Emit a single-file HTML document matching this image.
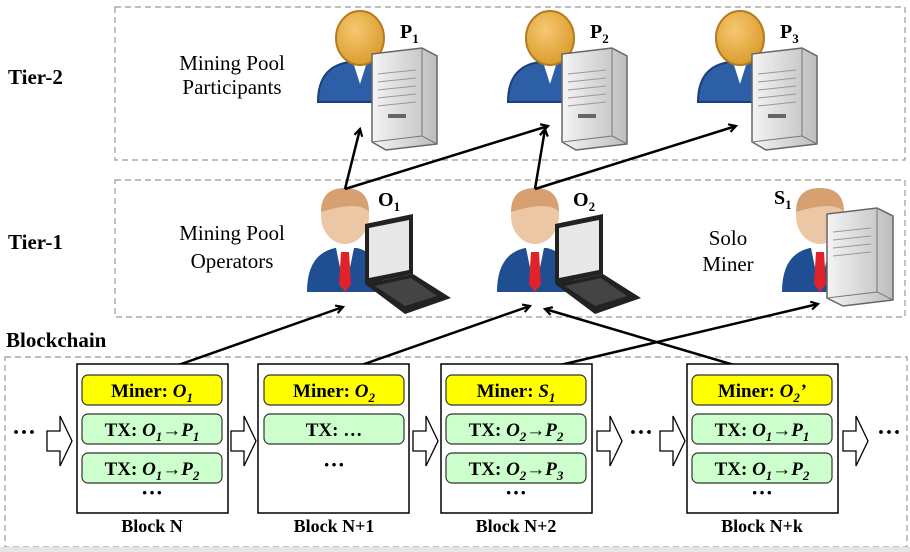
<!DOCTYPE html>
<html><head><meta charset="utf-8"><style>
html,body{margin:0;padding:0;background:#fff}
svg{display:block}
text{font-family:"Liberation Serif",serif}
.b{font-weight:bold}
</style></head><body>
<svg width="910" height="552" viewBox="0 0 910 552" xmlns="http://www.w3.org/2000/svg">
<defs>
<marker id="ah" markerWidth="10" markerHeight="10" refX="8" refY="5" orient="auto" markerUnits="userSpaceOnUse">
<path d="M1,1 L8,5 L1,9" fill="none" stroke="#000" stroke-width="2.2"/>
</marker>
<linearGradient id="srv" x1="0" x2="1"><stop offset="0" stop-color="#f4f4f4"/><stop offset="1" stop-color="#bdbdbd"/></linearGradient>
<radialGradient id="head" cx="0.4" cy="0.35" r="0.7"><stop offset="0" stop-color="#f6c871"/><stop offset="1" stop-color="#d99a2a"/></radialGradient>
<g id="part">
<path d="M-42,58 Q-42,22 -10,18 L10,18 Q42,22 42,58 Z" fill="#2d5fa6" stroke="#1c3f78" stroke-width="2"/>
<path d="M-7,18 L0,40 L7,18 Z" fill="#fff"/>
<ellipse cx="0" cy="-6" rx="24" ry="27" fill="url(#head)" stroke="#b57a1c" stroke-width="2"/>
<path d="M12,10 L62,4 L77,12 L77,100 L26,106 L12,98 Z" fill="url(#srv)" stroke="#666" stroke-width="1.5"/>
<path d="M62,4 L62,92 L77,100 M12,98 L62,92" fill="none" stroke="#777" stroke-width="1"/>
<g stroke="#999" stroke-width="1"><line x1="18" y1="30" x2="56" y2="26"/><line x1="18" y1="38" x2="56" y2="34"/><line x1="18" y1="46" x2="56" y2="42"/><line x1="18" y1="54" x2="56" y2="50"/><line x1="18" y1="62" x2="56" y2="58"/></g>
<rect x="28" y="70" width="18" height="4" fill="#666"/>
</g>
<g id="man">
<path d="M-38,100 Q-38,62 -10,56 L12,56 Q38,62 38,100 Z" fill="#1f4e92"/>
<path d="M-9,56 L0,100 L9,56 Z" fill="#fff"/>
<path d="M-4,60 L4,60 L6,92 L0,100 L-6,92 Z" fill="#e0222a"/>
<ellipse cx="0" cy="24" rx="24" ry="28" fill="#ecc7a6"/>
<path d="M-24,20 Q-24,-4 0,-4 Q24,-4 24,20 Q14,8 -24,20 Z" fill="#d6a070"/>
</g>
<g id="lap">
<path d="M0,12 L48,2 L48,62 L0,72 Z" fill="#222"/>
<path d="M4,16 L44,8 L44,58 L4,66 Z" fill="#e8e8e8"/>
<path d="M0,72 L48,62 L86,86 L40,102 Z" fill="#222"/>
<path d="M10,74 L46,66 L72,84 L40,94 Z" fill="#444"/>
</g>
<g id="blk">
<rect x="0" y="0" width="151" height="149" fill="#fff" stroke="#000" stroke-width="1.5"/>
</g>
</defs>

<rect x="115" y="7" width="790" height="153" fill="none" stroke="#999" stroke-dasharray="6,4" stroke-width="1.2"/>
<rect x="115" y="180" width="790" height="137" fill="none" stroke="#999" stroke-dasharray="6,4" stroke-width="1.2"/>
<rect x="5" y="357" width="902" height="190" fill="none" stroke="#999" stroke-dasharray="6,4" stroke-width="1.2"/>
<rect x="0" y="547" width="910" height="5" fill="#e6e6e6"/>

<text x="8" y="84" class="b" font-size="21">Tier-2</text>
<text x="8" y="249" class="b" font-size="21">Tier-1</text>
<text x="6" y="347" class="b" font-size="21">Blockchain</text>
<text x="232" y="70" font-size="21" text-anchor="middle">Mining Pool</text>
<text x="232" y="94" font-size="21" text-anchor="middle">Participants</text>
<text x="232" y="240" font-size="21" text-anchor="middle">Mining Pool</text>
<text x="232" y="268" font-size="21" text-anchor="middle">Operators</text>
<text x="728" y="245" font-size="21" text-anchor="middle">Solo</text>
<text x="728" y="271" font-size="21" text-anchor="middle">Miner</text>

<use href="#part" x="360" y="44"/>
<use href="#part" x="550" y="44"/>
<use href="#part" x="740" y="44"/>
<text x="400" y="38" class="b" font-size="20">P<tspan font-size="13" dy="5">1</tspan></text>
<text x="590" y="38" class="b" font-size="20">P<tspan font-size="13" dy="5">2</tspan></text>
<text x="780" y="38" class="b" font-size="20">P<tspan font-size="13" dy="5">3</tspan></text>

<use href="#man" x="345" y="192"/>
<use href="#lap" x="365" y="212"/>
<use href="#man" x="535" y="192"/>
<use href="#lap" x="555" y="212"/>
<use href="#man" x="820" y="192"/>
<g transform="translate(827,208)">
<path d="M0,6 L50,0 L66,8 L66,92 L16,98 L0,90 Z" fill="url(#srv)" stroke="#666" stroke-width="1.5"/>
<path d="M50,0 L50,84 L66,92 M0,90 L50,84" fill="none" stroke="#777"/>
<g stroke="#999"><line x1="6" y1="24" x2="44" y2="20"/><line x1="6" y1="32" x2="44" y2="28"/><line x1="6" y1="40" x2="44" y2="36"/><line x1="6" y1="48" x2="44" y2="44"/></g>
</g>
<text x="378" y="206" class="b" font-size="20">O<tspan font-size="13" dy="5">1</tspan></text>
<text x="573" y="206" class="b" font-size="20">O<tspan font-size="13" dy="5">2</tspan></text>
<text x="774" y="204" class="b" font-size="20">S<tspan font-size="13" dy="5">1</tspan></text>

<g stroke="#000" stroke-width="2.5" fill="none" marker-end="url(#ah)">
<line x1="345" y1="189" x2="360" y2="129"/>
<line x1="345" y1="189" x2="548" y2="126"/>
<line x1="535" y1="189" x2="545" y2="129"/>
<line x1="535" y1="189" x2="736" y2="126"/>
<line x1="150" y1="375" x2="343" y2="307"/>
<line x1="333" y1="375" x2="530" y2="306"/>
<line x1="518" y1="375" x2="818" y2="304"/>
<line x1="768" y1="375" x2="545" y2="309"/>
</g>

<g font-size="19" class="b" text-anchor="middle">
<g fill="#fff" stroke="#000" stroke-width="1.3">
<path d="M47,431 L60,431 L60,416 L72,441 L60,466 L60,451 L47,451 Z"/>
<path d="M231,431 L244,431 L244,416 L256,441 L244,466 L244,451 L231,451 Z"/>
<path d="M413,431 L426,431 L426,416 L438,441 L426,466 L426,451 L413,451 Z"/>
<path d="M597,431 L610,431 L610,416 L622,441 L610,466 L610,451 L597,451 Z"/>
<path d="M660,431 L673,431 L673,416 L685,441 L673,466 L673,451 L660,451 Z"/>
<path d="M843,431 L856,431 L856,416 L868,441 L856,466 L856,451 L843,451 Z"/>
</g>
<g font-size="24">
<text x="24" y="440">···</text>
<text x="641" y="440">···</text>
<text x="889" y="440">···</text>
</g>

<use href="#blk" x="77" y="364"/>
<use href="#blk" x="258" y="364"/>
<use href="#blk" x="441" y="364"/>
<use href="#blk" x="687" y="364"/>

<g stroke="#333" stroke-width="1.2">
<rect x="82" y="375" width="140" height="30" rx="6" fill="#ffff00"/>
<rect x="82" y="414" width="140" height="30" rx="6" fill="#ccffcc"/>
<rect x="82" y="453" width="140" height="30" rx="6" fill="#ccffcc"/>
<rect x="264" y="375" width="140" height="30" rx="6" fill="#ffff00"/>
<rect x="264" y="414" width="140" height="30" rx="6" fill="#ccffcc"/>
<rect x="446" y="375" width="140" height="30" rx="6" fill="#ffff00"/>
<rect x="446" y="414" width="140" height="30" rx="6" fill="#ccffcc"/>
<rect x="446" y="453" width="140" height="30" rx="6" fill="#ccffcc"/>
<rect x="692" y="375" width="140" height="30" rx="6" fill="#ffff00"/>
<rect x="692" y="414" width="140" height="30" rx="6" fill="#ccffcc"/>
<rect x="692" y="453" width="140" height="30" rx="6" fill="#ccffcc"/>
</g>
<text x="152" y="397">Miner: <tspan font-style="italic">O</tspan><tspan font-style="italic" font-size="13" dy="5">1</tspan></text>
<text x="152" y="436">TX: <tspan font-style="italic">O</tspan><tspan font-style="italic" font-size="13" dy="5">1</tspan><tspan dy="-5">→</tspan><tspan font-style="italic">P</tspan><tspan font-style="italic" font-size="13" dy="5">1</tspan></text>
<text x="152" y="475">TX: <tspan font-style="italic">O</tspan><tspan font-style="italic" font-size="13" dy="5">1</tspan><tspan dy="-5">→</tspan><tspan font-style="italic">P</tspan><tspan font-style="italic" font-size="13" dy="5">2</tspan></text>
<text x="152" y="500" font-size="22">···</text>
<text x="334" y="397">Miner: <tspan font-style="italic">O</tspan><tspan font-style="italic" font-size="13" dy="5">2</tspan></text>
<text x="334" y="436">TX: …</text>
<text x="334" y="472" font-size="22">···</text>
<text x="516" y="397">Miner: <tspan font-style="italic">S</tspan><tspan font-style="italic" font-size="13" dy="5">1</tspan></text>
<text x="516" y="436">TX: <tspan font-style="italic">O</tspan><tspan font-style="italic" font-size="13" dy="5">2</tspan><tspan dy="-5">→</tspan><tspan font-style="italic">P</tspan><tspan font-style="italic" font-size="13" dy="5">2</tspan></text>
<text x="516" y="475">TX: <tspan font-style="italic">O</tspan><tspan font-style="italic" font-size="13" dy="5">2</tspan><tspan dy="-5">→</tspan><tspan font-style="italic">P</tspan><tspan font-style="italic" font-size="13" dy="5">3</tspan></text>
<text x="516" y="500" font-size="22">···</text>
<text x="762" y="397">Miner: <tspan font-style="italic">O</tspan><tspan font-style="italic" font-size="13" dy="5">2</tspan><tspan dy="-5" font-style="italic">’</tspan></text>
<text x="762" y="436">TX: <tspan font-style="italic">O</tspan><tspan font-style="italic" font-size="13" dy="5">1</tspan><tspan dy="-5">→</tspan><tspan font-style="italic">P</tspan><tspan font-style="italic" font-size="13" dy="5">1</tspan></text>
<text x="762" y="475">TX: <tspan font-style="italic">O</tspan><tspan font-style="italic" font-size="13" dy="5">1</tspan><tspan dy="-5">→</tspan><tspan font-style="italic">P</tspan><tspan font-style="italic" font-size="13" dy="5">2</tspan></text>
<text x="762" y="500" font-size="22">···</text>

<text x="152" y="532" font-size="18">Block N</text>
<text x="334" y="532" font-size="18">Block N+1</text>
<text x="516" y="532" font-size="18">Block N+2</text>
<text x="762" y="532" font-size="18">Block N+k</text>
</g>
</svg>
</body></html>
